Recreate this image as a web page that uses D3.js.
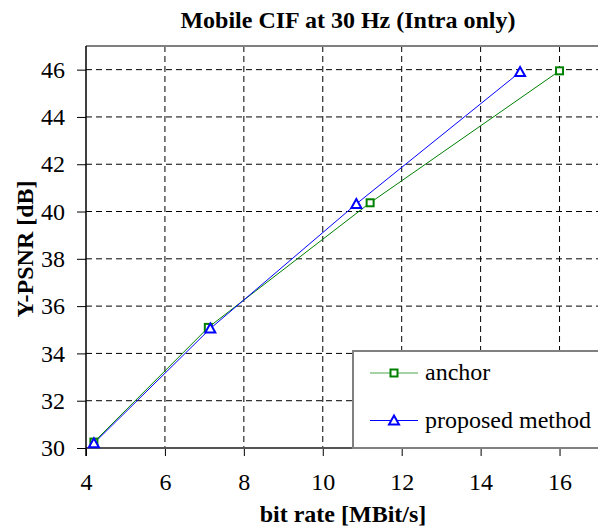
<!DOCTYPE html>
<meta charset="utf-8" />
<script src="https://d3js.org/d3.v7.min.js"></script>
<style>
  body { margin: 0; background: #fff; }
  text { font-family: "Liberation Serif", "Times New Roman", serif; }
</style>
<div id="chart"></div>
<script>
  // data
  const seriesNames = ["anchor", "proposed method"];
  const anchorRate = [4.2, 7.1, 11.2, 16.0];
  const anchorPsnr = [30.25, 35.1, 40.37, 45.95];
  const proposedRate = [4.2, 7.15, 10.85, 15.0];
  const proposedPsnr = [30.2, 35.05, 40.32, 45.9];
  const xTicks = [4, 6, 8, 10, 12, 14, 16];
  const yTicks = [30, 32, 34, 36, 38, 40, 42, 44, 46];

  const W = 598, H = 529;
  const margin = { top: 46, right: -1, bottom: 81, left: 86 };

  const svg = d3.select("#chart").append("svg")
    .attr("width", W).attr("height", H);

  const x = d3.scaleLinear().domain([4, 17]).range([margin.left, W - margin.right]);
  const y = d3.scaleLinear().domain([30, 47]).range([H - margin.bottom, margin.top]);

  // title
  svg.append("text")
    .attr("x", 348).attr("y", 28)
    .attr("text-anchor", "middle")
    .style("font-weight", "bold").style("font-size", "24px")
    .text("Mobile CIF at 30 Hz (Intra only)");

  // grid
  const grid = svg.append("g");
  grid.selectAll(".vg").data(xTicks.slice(1)).enter().append("line")
    .attr("x1", d => x(d)).attr("x2", d => x(d))
    .attr("y1", y(47)).attr("y2", y(30))
    .attr("stroke", "#000").attr("stroke-width", 1)
    .attr("stroke-dasharray", "6,4");
  grid.selectAll(".hg").data(yTicks.slice(1)).enter().append("line")
    .attr("x1", x(4)).attr("x2", W)
    .attr("y1", d => y(d)).attr("y2", d => y(d))
    .attr("stroke", "#000").attr("stroke-width", 1)
    .attr("stroke-dasharray", "6,4");

  // axes
  const xAxis = svg.append("g")
    .attr("transform", "translate(0," + y(30) + ")")
    .call(d3.axisBottom(x).tickValues(xTicks).tickSize(8).tickPadding(17));
  const yAxis = svg.append("g")
    .attr("transform", "translate(" + x(4) + ",0)")
    .call(d3.axisLeft(y).tickValues(yTicks).tickSize(9).tickPadding(12));
  [xAxis, yAxis].forEach(a => {
    a.selectAll("text").style("font-size", "24px").attr("fill", "#000")
      .style("font-family", "'Liberation Serif', serif");
    a.selectAll(".tick line").attr("stroke", "#000");
  });
  xAxis.select(".domain").remove();
  yAxis.select(".domain").remove();

  // frame
  svg.append("line").attr("x1", x(4)).attr("x2", W)
    .attr("y1", y(47)).attr("y2", y(47))
    .attr("stroke", "#808080").attr("stroke-width", 2);
  svg.append("line").attr("x1", x(4)).attr("x2", W)
    .attr("y1", y(30)).attr("y2", y(30))
    .attr("stroke", "#555").attr("stroke-width", 2);
  svg.append("line").attr("x1", x(4)).attr("x2", x(4))
    .attr("y1", y(47)).attr("y2", y(30) + 8)
    .attr("stroke", "#000").attr("stroke-width", 1.5);

  // axis titles
  svg.append("text")
    .attr("x", 343).attr("y", 522)
    .attr("text-anchor", "middle")
    .style("font-weight", "bold").style("font-size", "24px")
    .text("bit rate [MBit/s]");
  svg.append("text")
    .attr("transform", "translate(33," + 249 + ") rotate(-90)")
    .attr("text-anchor", "middle")
    .style("font-weight", "bold").style("font-size", "24px")
    .text("Y-PSNR [dB]");

  // series
  const line = d3.line().x(d => x(d[0])).y(d => y(d[1]));
  const anchor = anchorRate.map((r, i) => [r, anchorPsnr[i]]);
  const proposed = proposedRate.map((r, i) => [r, proposedPsnr[i]]);
  const colors = ["#008000", "#0000ff"];

  function square(g, cx, cy, c) {
    g.append("rect").attr("x", cx - 3.5).attr("y", cy - 3.5)
      .attr("width", 7).attr("height", 7)
      .attr("fill", "#fff").attr("stroke", c).attr("stroke-width", 2);
  }
  function triangle(g, cx, cy, c) {
    g.append("path")
      .attr("d", "M" + cx + "," + (cy - 5) + "L" + (cx + 5) + "," + (cy + 4) + "L" + (cx - 5) + "," + (cy + 4) + "Z")
      .attr("fill", "#fff").attr("stroke", c).attr("stroke-width", 2);
  }

  const plot = svg.append("g");
  plot.append("path").datum(anchor).attr("d", line)
    .attr("fill", "none").attr("stroke", colors[0]).attr("stroke-width", 1);
  plot.append("path").datum(proposed).attr("d", line)
    .attr("fill", "none").attr("stroke", colors[1]).attr("stroke-width", 1);
  anchor.forEach(d => square(plot, x(d[0]), y(d[1]), colors[0]));
  proposed.forEach(d => triangle(plot, x(d[0]), y(d[1]), colors[1]));

  // legend
  const lg = svg.append("g");
  lg.append("rect").attr("x", 353).attr("y", 351)
    .attr("width", 260).attr("height", y(30) - 351)
    .attr("fill", "#fff").attr("stroke", "#808080").attr("stroke-width", 2);
  seriesNames.forEach((name, i) => {
    const ly = 373 + i * 47.5;
    lg.append("line").attr("x1", 370).attr("x2", 418)
      .attr("y1", ly).attr("y2", ly)
      .attr("stroke", colors[i]).attr("stroke-width", 1)
      .attr("stroke-opacity", i === 0 ? 0.7 : 1);
    if (i === 0) square(lg, 394, ly, colors[i]); else triangle(lg, 394, ly, colors[i]);
    lg.append("text").attr("x", 425).attr("y", ly + 7)
      .style("font-size", "24px").text(name);
  });
</script>
